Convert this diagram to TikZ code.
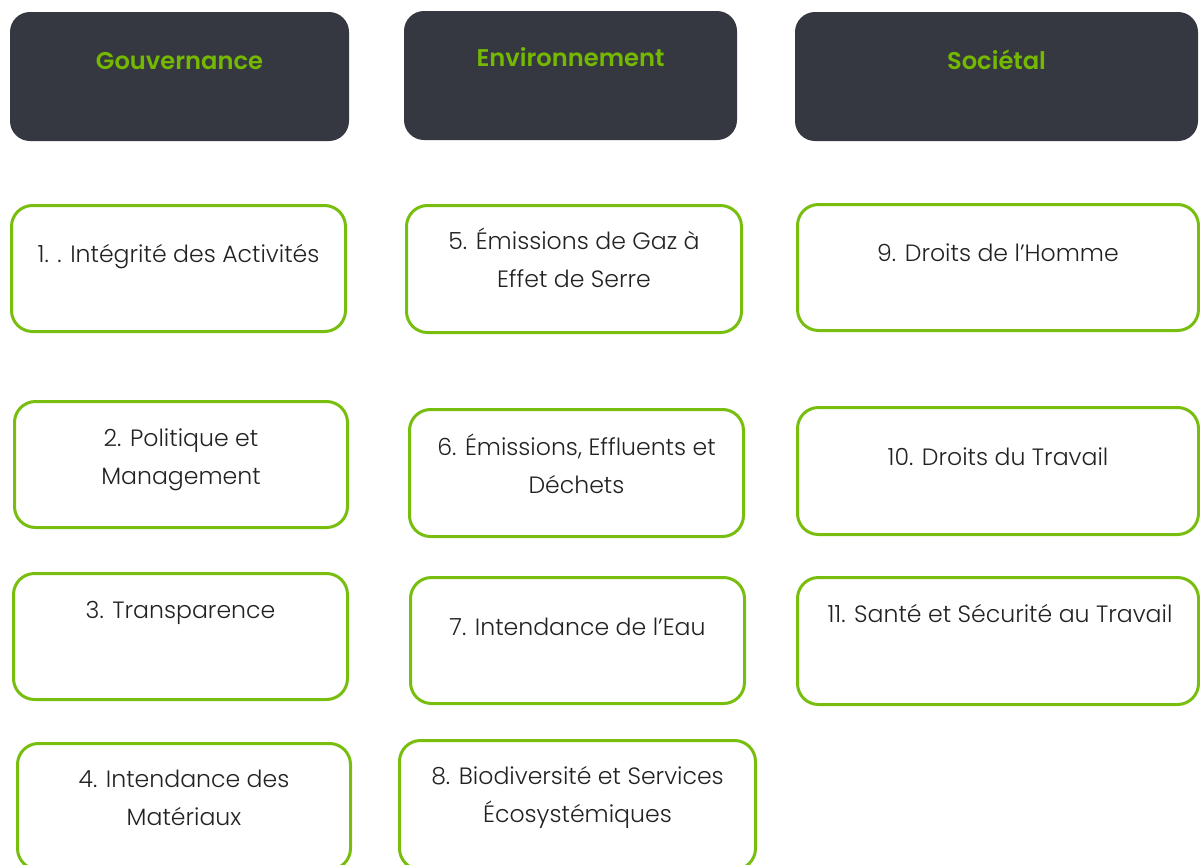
\documentclass[tikz,border=0pt]{standalone}
\usepackage{fontspec}
\newfontfamily\bodyfont{Poppins Light}
\newfontfamily\headfont{Poppins SemiBold}
\definecolor{darkbox}{HTML}{353841}
\definecolor{greenline}{HTML}{78BE0E}
\definecolor{greentext}{HTML}{74B800}
\definecolor{bodytext}{HTML}{222222}
\tikzset{
  headbox/.style={draw=none, fill=darkbox, rounded corners=20pt},
  itembox/.style={draw=greenline, line width=3pt, fill=white, rounded corners=21pt},
  headtext/.style={anchor=base, inner sep=0pt, font=\headfont\fontsize{24.2}{28}\selectfont, text=greentext},
  itemtext/.style={anchor=base, inner sep=0pt, align=center, font=\bodyfont\fontsize{23.6}{37.5}\selectfont, text=bodytext},
}
\begin{document}
\begin{tikzpicture}[x=1pt,y=-1pt]
\useasboundingbox (0,0) rectangle (1200,865);
% headers
\draw[headbox] (10,12) rectangle (349,141);
\draw[headbox] (404,11) rectangle (737,140);
\draw[headbox] (795,12) rectangle (1198,141);
\node[headtext] (hg) at (179.5,69) {Gouvernance};
\node[headtext] (he) at (570.5,66) {Environnement};
\node[headtext] (hs) at (996.5,69) {Sociétal};
% column 1
\draw[itembox] (11.5,205.5) rectangle (345.5,331.5);
\draw[itembox] (14.5,401.5) rectangle (347.5,527.5);
\draw[itembox] (13.5,573.5) rectangle (347.5,699.5);
\draw[itembox] (17.5,743.5) rectangle (350.5,869.5);
\node[itemtext] (t1) at (178.5,262) {1. . Intégrité des Activités};
\node[itemtext] (t2) at (181,484) {2. Politique et\\Management};
\node[itemtext] (t3) at (180.5,618) {3. Transparence};
\node[itemtext] (t4) at (184,825) {4. Intendance des\\Matériaux};
% column 2
\draw[itembox] (406.5,205.5) rectangle (741.5,332.5);
\draw[itembox] (409.5,409.5) rectangle (743.5,536.5);
\draw[itembox] (410.5,577.5) rectangle (744.5,703.5);
\draw[itembox] (399.5,740.5) rectangle (755.5,869.5);
\node[itemtext] (t5) at (574,287) {5. Émissions de Gaz à\\Effet de Serre};
\node[itemtext] (t6) at (576.5,493) {6. Émissions, Effluents et\\Déchets};
\node[itemtext] (t7) at (577.5,635) {7. Intendance de l’Eau};
\node[itemtext] (t8) at (577.5,822) {8. Biodiversité et Services\\Écosystémiques};
% column 3
\draw[itembox] (797.5,204.5) rectangle (1198.5,330.5);
\draw[itembox] (797.5,407.5) rectangle (1198.5,534.5);
\draw[itembox] (797.5,577.5) rectangle (1198.5,704.5);
\node[itemtext] (t9) at (998,261) {9. Droits de l’Homme};
\node[itemtext] (t10) at (998,465) {10. Droits du Travail};
\node[itemtext] (t11) at (1000,622) {11. Santé et Sécurité au Travail};
\end{tikzpicture}
\end{document}
